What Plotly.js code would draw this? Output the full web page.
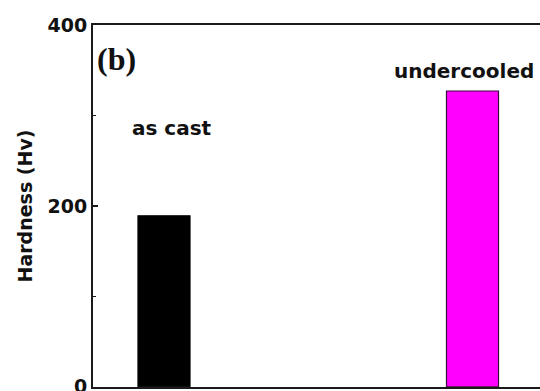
<!DOCTYPE html>
<html>
<head>
<meta charset="utf-8">
<script src="https://cdn.plot.ly/plotly-3.0.1.min.js"></script>
<style>html,body{margin:0;padding:0;background:#fff;}#chart{width:540px;height:391px;}</style>
</head>
<body>
<div id="chart"></div>
<script>
// Data
const categories = ['as cast', 'undercooled'];
const hardness = [189, 327];
const barColors = ['#000000', '#ff00ff'];
const yTickVals = [0, 200, 400];
const yTickText = ['0', '200', '400'];
const yAxisTitle = 'Hardness (Hv)';
const panelLabel = '(b)';

// Layout-only placement of category labels (pixel shift / data height)
const labelPlacement = [
  {xshift: 8, y: 286},
  {xshift: -9, y: 349}
];

const sansFont = {family: 'DejaVu Sans, Arial, sans-serif', size: 19, color: '#111'};

const trace = {
  type: 'bar',
  x: categories,
  y: hardness,
  width: 0.1686,
  marker: {color: barColors, line: {color: ['#000000', '#3a0a3a'], width: 1.2}},
  hoverinfo: 'skip',
  showlegend: false
};

const annotations = categories.map((c, i) => ({
  x: c, xref: 'x', y: labelPlacement[i].y, yref: 'y',
  xshift: labelPlacement[i].xshift,
  text: '<b>' + c + '</b>', showarrow: false,
  font: {family: 'DejaVu Sans, Arial, sans-serif', size: 20, color: '#111'},
  xanchor: 'center', yanchor: 'middle'
}));
annotations.push({
  x: 0.005, xref: 'paper', y: 0.905, yref: 'paper',
  text: '<b>' + panelLabel + '</b>', showarrow: false,
  font: {family: 'Liberation Serif, Times New Roman, serif', size: 32, color: '#111'},
  xanchor: 'left', yanchor: 'middle'
});

const layout = {
  width: 540, height: 391,
  margin: {l: 93, r: 0, t: 25, b: 4, pad: 0},
  paper_bgcolor: '#fff', plot_bgcolor: '#fff',
  xaxis: {
    type: 'category', range: [-0.2301, 1.2188],
    showline: true, mirror: true, linecolor: '#1a1a1a', linewidth: 2,
    showgrid: false, zeroline: false, ticks: '', showticklabels: false, fixedrange: true
  },
  yaxis: {
    range: [-0.3, 400], autorange: false,
    showline: true, mirror: false, linecolor: '#1a1a1a', linewidth: 2,
    showgrid: false, zeroline: false,
    tickmode: 'array', tickvals: yTickVals, ticktext: yTickText.map(t => '<b>' + t + '</b>'),
    ticks: 'inside', ticklen: 5, tickwidth: 1.5, tickcolor: '#1a1a1a',
    ticklabeloverflow: 'allow',
    minor: {tickmode: 'array', tickvals: [100, 300], ticks: 'inside', ticklen: 3, tickwidth: 1.5, tickcolor: '#1a1a1a'},
    tickfont: sansFont,
    title: {text: '<b>' + yAxisTitle + '</b>', font: sansFont, standoff: 10},
    fixedrange: true
  },
  annotations: annotations
};

Plotly.newPlot('chart', [trace], layout, {displayModeBar: false, staticPlot: true});
</script>
</body>
</html>
